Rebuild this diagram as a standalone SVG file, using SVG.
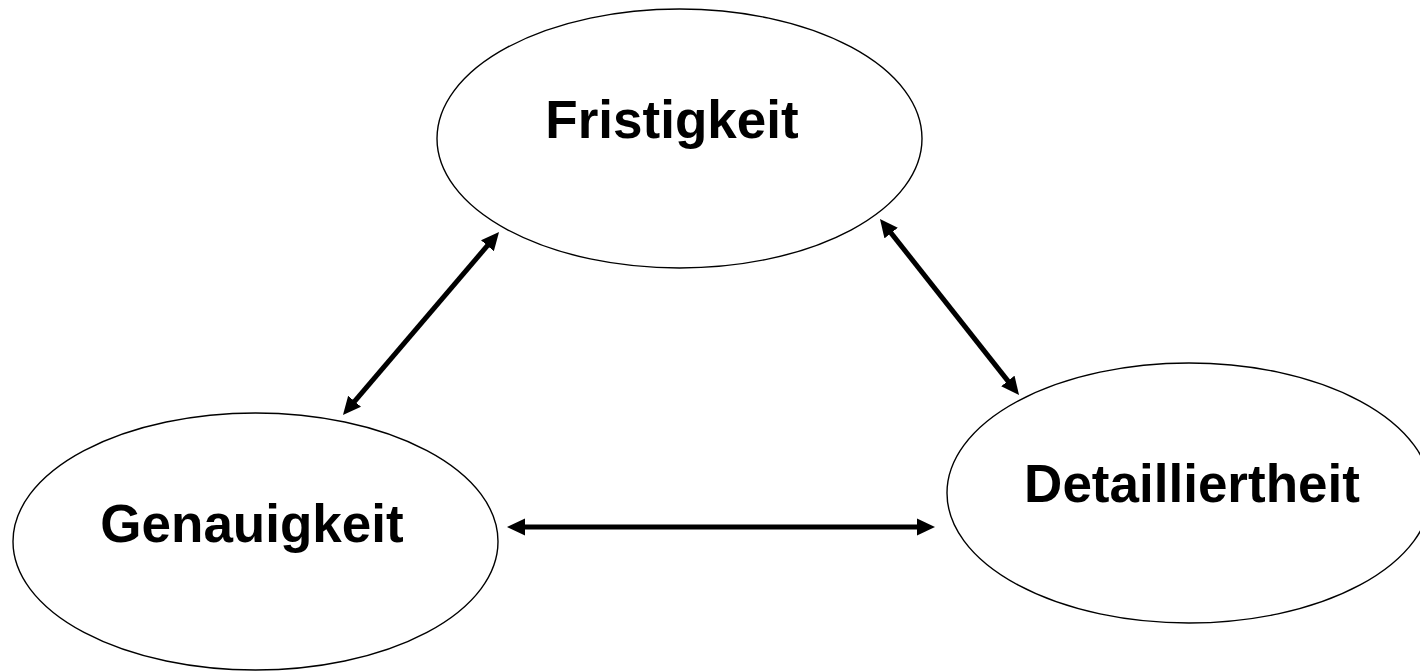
<svg xmlns="http://www.w3.org/2000/svg" width="1420" height="672" viewBox="0 0 1420 672">
<style>
.node{fill:#fff;stroke:#000;stroke-width:1.4}
.lbl{font-family:"Liberation Sans",Arial,sans-serif;font-weight:bold;font-size:53px;fill:#000;text-anchor:middle}
.edge{stroke:#000;stroke-width:5;fill:none;marker-start:url(#ah);marker-end:url(#ah)}
</style>
<defs>
<marker id="ah" markerUnits="userSpaceOnUse" markerWidth="18" markerHeight="18" refX="7" refY="9" orient="auto-start-reverse" viewBox="0 0 18 18">
<path d="M0,0.5 L18,9 L0,17.5 z" fill="#000"/>
</marker>
</defs>
<rect width="1420" height="672" fill="#fff"/>
<g id="node-fristigkeit">
<ellipse class="node" cx="679.5" cy="138.5" rx="242.5" ry="129.5"/>
<text class="lbl" x="672" y="138">Fristigkeit</text>
</g>
<g id="node-genauigkeit">
<ellipse class="node" cx="255.5" cy="541.5" rx="242.5" ry="128.5"/>
<text class="lbl" x="252" y="542">Genauigkeit</text>
</g>
<g id="node-detailliertheit">
<ellipse class="node" cx="1189" cy="493" rx="242" ry="130"/>
<text class="lbl" x="1192" y="502">Detailliertheit</text>
</g>
<g id="connectors">
<line class="edge" x1="350.1" y1="406.6" x2="491.9" y2="240.4"/>
<line class="edge" x1="886.8" y1="227.6" x2="1012.2" y2="386.4"/>
<line class="edge" x1="518" y1="527" x2="924" y2="527"/>
</g>
</svg>
